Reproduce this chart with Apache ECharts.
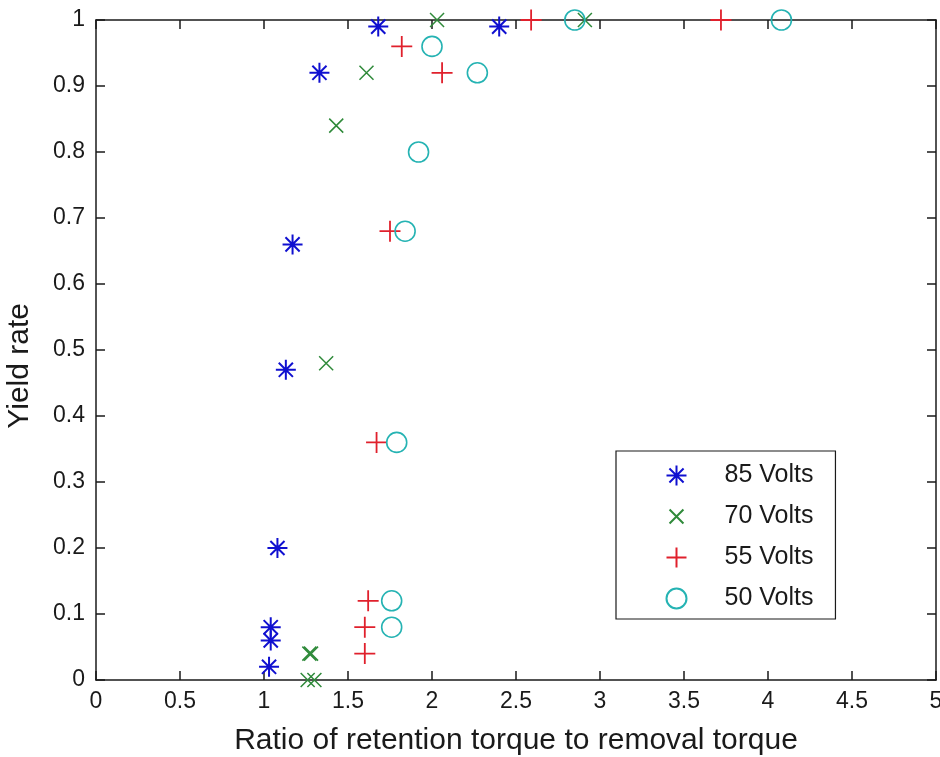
<!DOCTYPE html>
<html>
<head>
<meta charset="utf-8">
<script src="https://cdn.jsdelivr.net/npm/echarts@6/dist/echarts.min.js"></script>
<style>
  html, body { margin: 0; padding: 0; background: #fff; }
  #chart { width: 940px; height: 757px; }
</style>
</head>
<body>
<div id="chart"></div>
<script>
// Yield rate vs. torque ratio, one series per forming voltage
const seriesNames = ['85 Volts', '70 Volts', '55 Volts', '50 Volts'];

const v85x = [1.68, 2.40, 1.33, 1.17, 1.13, 1.08, 1.04, 1.04, 1.03];
const v85y = [0.99, 0.99, 0.92, 0.66, 0.47, 0.20, 0.08, 0.06, 0.02];

const v70x = [2.03, 2.91, 1.61, 1.43, 1.37, 1.27, 1.28, 1.26, 1.30];
const v70y = [1.00, 1.00, 0.92, 0.84, 0.48, 0.04, 0.04, 0.00, 0.00];

const v55x = [2.59, 3.72, 1.82, 2.06, 1.75, 1.67, 1.62, 1.60, 1.60];
const v55y = [1.00, 1.00, 0.96, 0.92, 0.68, 0.36, 0.12, 0.08, 0.04];

const v50x = [2.85, 4.08, 2.00, 2.27, 1.92, 1.84, 1.79, 1.76, 1.76];
const v50y = [1.00, 1.00, 0.96, 0.92, 0.80, 0.68, 0.36, 0.12, 0.08];

const xTickLabels = ['0', '0.5', '1', '1.5', '2', '2.5', '3', '3.5', '4', '4.5', '5'];
const yTickLabels = ['0', '0.1', '0.2', '0.3', '0.4', '0.5', '0.6', '0.7', '0.8', '0.9', '1'];

const pair = (xs, ys) => xs.map((x, i) => [x, ys[i]]);

// stroke-only marker shapes
const ASTERISK = 'path://M0,5L10,5M5,0L5,10M1.46,1.46L8.54,8.54M1.46,8.54L8.54,1.46';
const CROSS = 'path://M0,0L10,10M0,10L10,0';
const PLUS = 'path://M0,5L10,5M5,0L5,10';
// legend variant of the cross: extra move-to points widen the bounds so the glyph draws smaller
const CROSS_KEY = 'path://M-2.2,-2.2M12.2,12.2M0,0L10,10M0,10L10,0';

const FONT = '"Liberation Sans", Arial, sans-serif';
const INK = '#1a1a1a';

const axisLine = { show: true, onZero: false, lineStyle: { color: INK, width: 1.5 } };
const axisTick = { show: true, inside: true, length: 9, lineStyle: { color: INK, width: 1.5 } };

function xAxisDef(pos, withLabels) {
  return {
    type: 'value', position: pos, min: 0, max: 5, interval: 0.5,
    axisLine, axisTick, splitLine: { show: false },
    axisLabel: {
      show: withLabels, margin: 10, color: INK, fontFamily: FONT, fontSize: 23,
      formatter: (v) => xTickLabels[Math.round(v / 0.5)]
    },
    name: withLabels ? 'Ratio of retention torque to removal torque' : '',
    nameLocation: 'middle', nameGap: 46,
    nameTextStyle: { color: INK, fontFamily: FONT, fontSize: 30 }
  };
}

function yAxisDef(pos, withLabels) {
  return {
    type: 'value', position: pos, min: 0, max: 1, interval: 0.1,
    axisLine, axisTick, splitLine: { show: false },
    axisLabel: {
      show: withLabels, margin: 11, color: INK, fontFamily: FONT, fontSize: 23,
      formatter: (v) => yTickLabels[Math.round(v / 0.1)]
    }
  };
}

function scatter(name, data, symbol, size, color, width) {
  return {
    name, type: 'scatter', data, symbol, symbolSize: size,
    xAxisIndex: 0, yAxisIndex: 0,
    itemStyle: { color: 'none', borderColor: color, borderWidth: width, opacity: 1 },
    emphasis: { disabled: true },
    z: 3
  };
}

const chart = echarts.init(document.getElementById('chart'), null, { renderer: 'canvas' });

chart.setOption({
  animation: false,
  backgroundColor: '#ffffff',
  grid: { left: 96, top: 20, right: 4, bottom: 77, containLabel: false, outerBoundsMode: 'none' },
  xAxis: [xAxisDef('bottom', true), xAxisDef('top', false)],
  yAxis: [yAxisDef('left', true), yAxisDef('right', false)],
  legend: {
    orient: 'vertical', left: 616, top: 451,
    padding: [12, 22, 8, 48],
    itemWidth: 20, itemHeight: 20, itemGap: 16,
    backgroundColor: '#ffffff',
    borderColor: INK, borderWidth: 1.2, borderRadius: 0,
    selectedMode: false,
    textStyle: { color: INK, fontFamily: FONT, fontSize: 25, padding: [0, 0, 0, 33] },
    data: [
      { name: seriesNames[0] },
      { name: seriesNames[1], icon: CROSS_KEY },
      { name: seriesNames[2] },
      { name: seriesNames[3] }
    ]
  },
  graphic: [{
    type: 'text', left: 5, top: 303, rotation: Math.PI / 2,
    style: { text: 'Yield rate', font: '30px ' + FONT, fill: INK }
  }],
  series: [
    scatter(seriesNames[0], pair(v85x, v85y), ASTERISK, 20, '#1010d0', 2),
    scatter(seriesNames[1], pair(v70x, v70y), CROSS, 14, '#2f8a3a', 1.5),
    scatter(seriesNames[2], pair(v55x, v55y), PLUS, 21, '#e0202c', 1.8),
    scatter(seriesNames[3], pair(v50x, v50y), 'circle', 20, '#25b3b3', 1.6)
  ]
});
</script>
</body>
</html>
